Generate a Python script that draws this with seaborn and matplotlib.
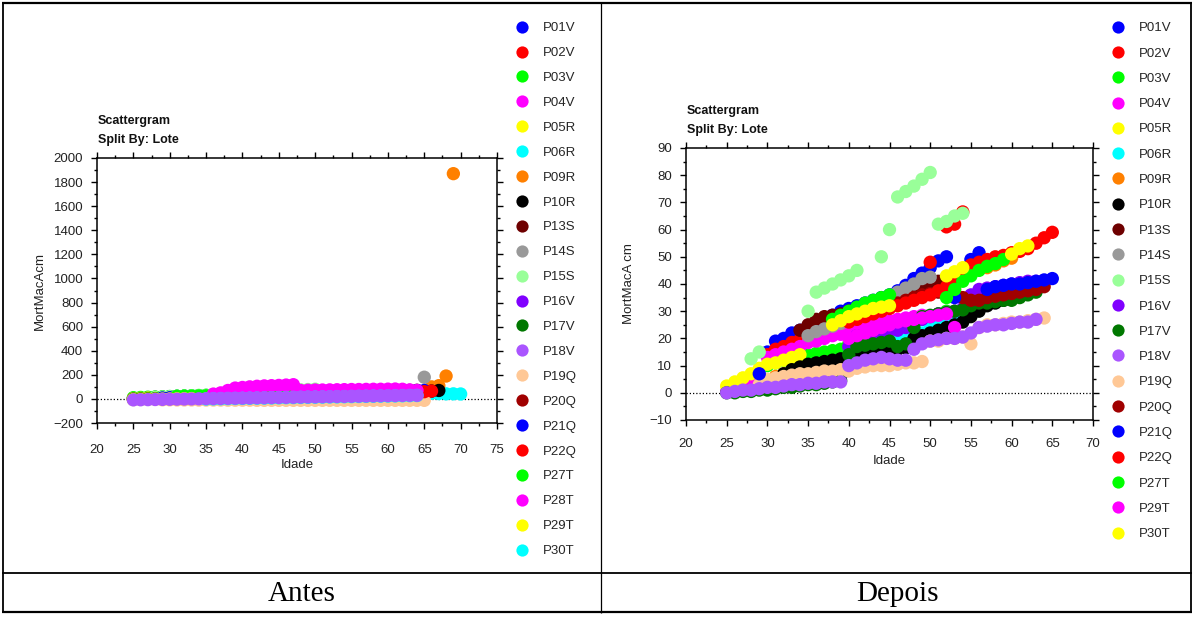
import numpy as np
import pandas as pd
import matplotlib
matplotlib.use("Agg")
import matplotlib.pyplot as plt
from matplotlib.lines import Line2D
from matplotlib.ticker import MultipleLocator
import seaborn as sns

sns.set_theme(style="white")
plt.rcParams["font.family"] = ["Liberation Sans", "DejaVu Sans"]

N = None  # no measurement at that age

# ---------------------------------------------------------------
# "Antes": (first age, MortMacAcm per year of age)
# ---------------------------------------------------------------
A_P01V = (25, [2, 6, 9, 12, 15, 19, 21, 23, 25, 27, 28, 30, 32, 34, 36, 38, 40, 42, 44, 46,
               48, 50, 52, 54, 55, 56, 57, 58, 59, 60])
A_P02V = (30, [14, 16, 18, 20, 21, 23, 25, 27, 29, 31, 33, 35, 37, 39, 41, 43, 45, 47, 49, 51,
               53, 55, 57, 59, 61, 62, 63, 64, 65, 66, 67, 68, 69, 70, 71])
A_P03V = (25, [10, 12, 14, 16, 18, 20, 22, 24, 26, 28, 30, 32, 34, 36, 38, 40, 41, 42, 43, 44,
               45, 46, 47, 48, 49, 50, 51, 52, 53, 54])
A_P04V = (25, [1, 3, 5, 7, 9, 13, 15, 17, 19, 21, 23, 25, 27, 30, 33, 36, 38, 40, 42, 44,
               46, 48, 50, 52, 54, 56, 58, 60, 62, 64])
A_P05R = (25, [3, 5, 7, 9, 11, 12, 13, 14, 15, 16])
A_P06R = (31, [5, 7, 8, 9, 10, 11, 12, 13, 14, 16, 18, 20, 22, 24, 26, 28, 30, 32, 34, 36,
               37, 38, 39, 40, 41, 42, 43, 44, 45, 46, 47, 48, 49, 50, 48, 46, 44, 42, 42, 41])
A_P09R = (31, [6, 7, 8, 9, 10, 11, 12, 13, 14, 16, 18, 20, 22, 24, 26, 28, 30, 32, 34, 36,
               38, 40, 42, 44, 46, 48, 50, 52, 54, 56, 58, 60, 62, 64, 66, 100, 110, 190, 1870])
A_P10R = (32, [7, 9, 10, 11, 12, 13, 14, 15, 16, 17, 18, 19, 20, 21, 22, 23, 24, 25, 26, 28,
               30, 32, 34, 36, 38, 40, 42, 44, 46, 48, 50, 55, 60, 62, 65, 70])
A_P13S = (34, [23, 25, 27, 28, 29, 30, 31, 32, 33, 34, 35, 36, 37, 38, 39, 40, 41, 42, 43])
A_P14S = (35, [21, 22, 23, 24, 25, 26, 27, 28, 29, 30, 32, 34, 36, 38, 40, 42, 44, 46, 48, 50,
               52, 54, 56, 58, 60, 62, 64, 66, 68, 70, 180])
A_P15S = (28, [12, 15, 18, 21, 24, 27, 29, 30, 37, 38, 40, 41, 43, 45, 47, 48, 50, 60, 72, 74,
               76, 78, 81, 62, 63, 65, 66])
A_P16V = (30, [3, 4, 5, 6, 7, 8, 9, 10, 11, 12, 17, 21, 22, 23, 24, 25, 26, 27, 28, 29,
               30, 31, 32, 33, 34, 35, 36, 37, 38, 39, 40, 41, 42, 43, 44, 45])
A_P17V = (25, [0, 1, 2, 3, 4, 5, 6, 7, 8, 9, 10, 11, 12, 13, 14, 24, 27, 28, 29, 30,
               31, 32, 33, 34, 38, 40, 41, 42, 43, 44, 45, 46, 47, 48, 49, 50, 51, 52, 53])
A_P18V = (25, [-8, -7, -6, -5, -4, -3, -2, -1, 0, 1, 2, 3, 4, 5, 6, 7, 8, 9, 10, 11,
               12, 13, 14, 15, 16, 17, 18, 19, 20, 21, 22, 23, 24, 25, 26, 27, 28, 29, 30, 30])
A_P19Q = (29, [-8, -8, -9, -9, -9, -10, -10, -10, -10, -11, -11, -11, -11, -12, -12, -12,
               -12, -12, -12, -12, -12, -12, -12, -12, -12, -12, -12, -12, -12, -12, -12, -12,
               -12, -12, -12, -12, -12])
A_P20Q = (40, [40, 41, 42, 43, 44, 45, 46, 47, 48, 49, 50, 51, 52, 53, 54, 55, 56, 57, 58, 59,
               60, 61, 62, 63, 64])
A_P21Q = (29, [7, 9, 11, 13, 15, 17, 19, 21, 23, 25, 27, 29, 31, 33, 35, 37, 39, 41, 43, 45,
               47, 49, 51, 53, 55, 57, 59, 61, 63, 65, 67, 69, 70, 70, 70, 70, 70])
A_P22Q = (53, [38, 44, 47, 48, 49, 50, 51, 52, 53, 55, 57, 59, 60, 65])
A_P27T = (31, [22, 23, 24, 25, 26, 27, 28, 29, 30, 31, 32, 33, 34, 35, 36, 37, 38, 39, 40, 41,
               42, 43, 44, 45, 46, 47, 48, 49, 50])
A_P28T = (36, [40, 50, 70, 90, 95, 100, 105, 108, 110, 112, 115, 118, 70, 72, 74, 74, 75, 76,
               77, 78, 78, 79, 80, 80, 81, 82, 80, 75, 70])
A_P29T = (25, [-5, -4, -3, -2, -1, 0, 1, 2, 3])
A_P30T = (35, [-1, 0, 1, 2, 3, 4, 5, 6, 7, 8, 9, 10, 11, 12, 13, 14, 15, 16, 17, 18,
               19, 20, 21, 22, 23, 24, 25, 26, 27, 28])

antes_names = ["P01V", "P02V", "P03V", "P04V", "P05R", "P06R", "P09R", "P10R", "P13S", "P14S",
               "P15S", "P16V", "P17V", "P18V", "P19Q", "P20Q", "P21Q", "P22Q", "P27T", "P28T",
               "P29T", "P30T"]
antes_series = [A_P01V, A_P02V, A_P03V, A_P04V, A_P05R, A_P06R, A_P09R, A_P10R, A_P13S, A_P14S,
                A_P15S, A_P16V, A_P17V, A_P18V, A_P19Q, A_P20Q, A_P21Q, A_P22Q, A_P27T, A_P28T,
                A_P29T, A_P30T]

# ---------------------------------------------------------------
# "Depois": (first age, MortMacAcm per year of age)
# ---------------------------------------------------------------
D_P01V = (30, [15, 19, 20, 22, 23, 24.5, 26, 27, 28.5, 30, 31, 32, 33, 34, 35, 36, 37.5, 39.5,
               42, 44, 46, 48.5, 50])
D_P02V = (30, [14, 16, 17, 18.5, 19.5, 21, 22, 23, 24, 25, 26, N, N, N, N, N, N, N, N, N,
               48, N, 61, 62, 66.5])
D_P03V = (30, [10, 11, 12, 12.5, 13, 14, 14.5, 15, 15.5, 16, 18, 19, 20, 21, 22, 23, 24, 25,
               26, 27, 28, 29, 30])
D_P04V = (25, [0.5, 1.5, 3, 4, 5, 13, 14, 15, 16, 17, 18.5, 19, 20, 21, 21.5, 22, 23, 24, 25,
               26, 26.5, 27, 27.5, 28, 28.5])
D_P05R = (25, [2.5, 4, 5.5, 7, 9, 10.5, 11, 12, 13, 14])
D_P06R = (31, [5, 6, 7, 7.5, 8, 8.5, 9, 9.5, 10, 10.5, 14, 15, 16, 17, 18, 19, 20, 21, 22, 24,
               26, 27, 28, 30, 32, 34, 35, 36, 36.5, 37, 37.5, 38, 38.5])
D_P09R = (31, [6, 7, 8, 8.5, 9, 9.5, 10, 10.5, 11, N, N, N, N, N, N, N, N, N, N, N, N, 42, 38,
               N, N, N, 46, 47, 48.5, 49.5])
D_P10R = (32, [7, 8.5, 9.5, 10.5, 11, 11.5, 12, 12.5, 13, 14, 14.5, 15, 15.5, 16, 16, 16.5,
               20, 21, 22, 23, 24, 25, 26, 28, 30, 32, 33, 34, 35])
D_P13S = (34, [23, 25, 27, 28, 28.5, 29, 30, 31, 32, 33, 34, 35, 36, 37, 38, 39, 40, 41, 42.5])
D_P14S = (35, [21, 22.5, 23.5, 24.5, 25.5, 26.5, 27.5, 28.5, 29.5, 31, 33, 37, 38.5, 40, 42,
               42.5])
D_P15S = (28, [12.5, 15, N, N, N, N, N, 30, 37, 38.5, 40, 41.5, 43, 45, N, N, 50, 60, 72, 74,
               76, 78.5, 81, 62, 63, 65, 66])
D_P16V = (30, [3, 3, 3.5, 3.5, 4, 4, 4.5, 5, 5.5, 6, 17, 21, 21.5, 22, 22.5, 23, 23, 24,
               26, 27, 28, 29, 29.5, 30, 31, 36, 38, 38.5, 39, 39.5, 40, 40.5, 41, 41])
D_P17V = (25, [0, 0, 0.5, 0.5, 1, 1, 1.5, 2, 2, 2.5, 3, 3, 3.5, 4, 4.5, 14, 17, 17.5, 18,
               18.5, 19, 17, 18, 24, 28, 28.5, 29, 29.5, 30, 30.5, 32, 33, 33, 33.5, 34, 34,
               35, 36, 37])
D_P18V = (25, [0, 0.5, 1, 1, 1.5, 2, 2, 2.5, 3, 3, 3.5, 3.5, 4, 4, 4, 10, 11, 12, 12.5, 13,
               12.5, 12, 12, 16, 18, 19, 19.5, 20, 20, 20.5, 22, 24, 24.5, 25, 25, 25.5, 26,
               26, 27])
D_P19Q = (29, [3, 5, 5.5, 6, 6.5, 7, 7, 7.5, 8, 8, 8.5, 8, 9, 9.5, 10, 10, 10, 10.5, 11, 11,
               11.5, 19, 19, 20, 20, 20.5, 18, 24, 25, 25, 25.5, 26, 26, 26.5, 27, 27.5])
D_P20Q = (40, [27, 28, 29, 30, 31, 32, 33, 34, 35, 36, 36.5, 37, 37, 36, 35, 34, 34, 35, 35.5,
               36, 36.5, 37, 37.5, 38, 39])
D_P21Q = (29, [7, N, N, N, N, N, N, N, N, N, N, N, N, N, N, N, N, N, N, N, N, N, N, N,
               35, 42, 49, 51.5, 38, 39, 39.5, 40, 40, 40.5, 41, 41.5, 42])
D_P22Q = (40, [26, 27, 28, 29, 30, 31, 32, 33, 34, 35, 36, 37.5, 39, 40, 44, 47, 48, 49, 50,
               50.5, 51.5, 52, 53, 55, 57, 59])
D_P27T = (38, [27, 28.5, 30, 31.5, 33, 34, 35, 36, N, N, N, N, N, N, 35, 38, 41, 43, 45, 46.5,
               47.5, 49])
D_P29T = (40, [20, 21, 22, 23, 24, 25, 26, 26.5, 27, 27.5, 28, 28.5, 29, 24])
D_P30T = (38, [25, 26.5, 28, 29, 30, 31, 31.5, 32, N, N, N, N, N, N, 43, 44.5, 46, N, N, N,
               N, N, 51, 53, 54])

depois_names = ["P01V", "P02V", "P03V", "P04V", "P05R", "P06R", "P09R", "P10R", "P13S", "P14S",
                "P15S", "P16V", "P17V", "P18V", "P19Q", "P20Q", "P21Q", "P22Q", "P27T", "P29T",
                "P30T"]
depois_series = [D_P01V, D_P02V, D_P03V, D_P04V, D_P05R, D_P06R, D_P09R, D_P10R, D_P13S,
                 D_P14S, D_P15S, D_P16V, D_P17V, D_P18V, D_P19Q, D_P20Q, D_P21Q, D_P22Q,
                 D_P27T, D_P29T, D_P30T]

# Colour cycle of the split variable (assigned in legend order)
lote_cycle = ["#0000FF", "#FF0000", "#00FF00", "#FF00FF", "#FFFF00", "#00FFFF", "#FF8000",
              "#000000", "#6E0000", "#999999", "#99FF99", "#8000FF", "#007800", "#AA55FF",
              "#FFC896", "#A00000"]

W, H = 1194, 617
fig = plt.figure(figsize=(W / 100, H / 100), dpi=100)
fig.patch.set_facecolor("white")


def fx(px):
    return px / W


def fy(py):
    return 1 - py / H


def long_table(names, series):
    rows = []
    for name, (start, values) in zip(names, series):
        for k, v in enumerate(values):
            if v is not None:
                rows.append((name, start + k, v))
    df = pd.DataFrame(rows, columns=["Lote", "Idade", "MortMacAcm"])
    # P18V is painted last, on top of the other lots
    df["_last"] = (df["Lote"] == "P18V").astype(int)
    df["_ord"] = df["Lote"].map({n: i for i, n in enumerate(names)})
    return df.sort_values(["_last", "_ord"], kind="stable")


def panel(box, names, series, xlim, ylim, ymaj, ymin, ylabel, title_y,
          xlab_y, legend_top, xpad, spacing):
    left, top, right, bottom = box
    ax = fig.add_axes([fx(left), fy(bottom), fx(right - left), (bottom - top) / H])
    df = long_table(names, series)
    pal = {n: lote_cycle[i % len(lote_cycle)] for i, n in enumerate(names)}
    sns.scatterplot(data=df, x="Idade", y="MortMacAcm", hue="Lote", palette=pal,
                    hue_order=names, s=92, linewidth=0, alpha=1, legend=False, ax=ax,
                    zorder=3)
    ax.axhline(0, color="black", lw=0.9, ls=(0, (1, 1.6)), zorder=2)
    ax.set_xlim(*xlim)
    ax.set_ylim(*ylim)
    ax.xaxis.set_major_locator(MultipleLocator(5))
    ax.xaxis.set_minor_locator(MultipleLocator(2.5))
    ax.yaxis.set_major_locator(MultipleLocator(ymaj))
    ax.yaxis.set_minor_locator(MultipleLocator(ymin))
    for sp in ax.spines.values():
        sp.set_visible(True)
        sp.set_color("black")
        sp.set_linewidth(1.1)
    ax.tick_params(which="both", direction="out", color="black", width=1.0,
                   top=True, right=True, bottom=True, left=True,
                   labeltop=False, labelright=False, labelsize=9.5, labelcolor="#222222")
    ax.tick_params(which="major", length=4.0)
    ax.tick_params(which="minor", length=2.2)
    ax.tick_params(axis="x", which="major", pad=xpad)
    ax.tick_params(axis="y", which="major", pad=6)
    ax.set_xlabel("")
    ax.set_ylabel("")
    ax.grid(False)
    fig.text(fx((left + right) / 2), fy(xlab_y), "Idade", ha="center", va="center",
             fontsize=9.5, color="#222222")
    fig.text(fx(left - 57), fy((top + bottom) / 2), ylabel, ha="center", va="center",
             rotation=90, fontsize=9.5, color="#222222")
    fig.text(fx(left + 1), fy(title_y), "Scattergram", ha="left", va="center",
             fontsize=9, fontweight="bold", color="#111111")
    fig.text(fx(left + 1), fy(title_y + 19), "Split By: Lote", ha="left", va="center",
             fontsize=9, fontweight="bold", color="#111111")
    handles = [Line2D([], [], marker="o", ls="", markersize=8.8, markeredgewidth=0,
                      color=pal[n]) for n in names]
    fig.legend(handles, names, loc="upper left",
               bbox_to_anchor=(fx(right + 18), fy(legend_top)),
               bbox_transform=fig.transFigure, frameon=False, borderpad=0,
               borderaxespad=0, handlelength=1.0, handletextpad=1.1,
               labelspacing=spacing, fontsize=9.5)
    return ax


panel((97, 158, 497, 423), antes_names, antes_series, (20, 75), (-200, 2000), 200, 100,
      "MortMacAcm", 121, 465, 22, 11, 0.96)
panel((686, 148, 1093, 420), depois_names, depois_series, (20, 70), (-10, 90), 10, 5,
      "MortMacA cm", 111, 461, 22, 9, 0.99)

# Table frame around both panels and captions
def hline(y, x0, x1, lw):
    fig.add_artist(Line2D([fx(x0), fx(x1)], [fy(y), fy(y)], color="black", lw=lw,
                          transform=fig.transFigure, solid_capstyle="butt"))


def vline(x, y0, y1, lw):
    fig.add_artist(Line2D([fx(x), fx(x)], [fy(y0), fy(y1)], color="black", lw=lw,
                          transform=fig.transFigure, solid_capstyle="butt"))


hline(3, 2, 1192, 1.6)
hline(573, 2, 1192, 1.3)
hline(612, 2, 1192, 1.6)
vline(3, 2, 613, 1.3)
vline(1191, 2, 613, 1.3)
vline(601, 2, 613, 0.9)

fig.text(fx(302), fy(594), "Antes", ha="center", va="center", fontsize=21,
         family=["Liberation Serif", "DejaVu Serif"], color="black")
fig.text(fx(897), fy(594), "Depois", ha="center", va="center", fontsize=21,
         family=["Liberation Serif", "DejaVu Serif"], color="black")

fig.savefig("out.png", dpi=100, facecolor="white")
